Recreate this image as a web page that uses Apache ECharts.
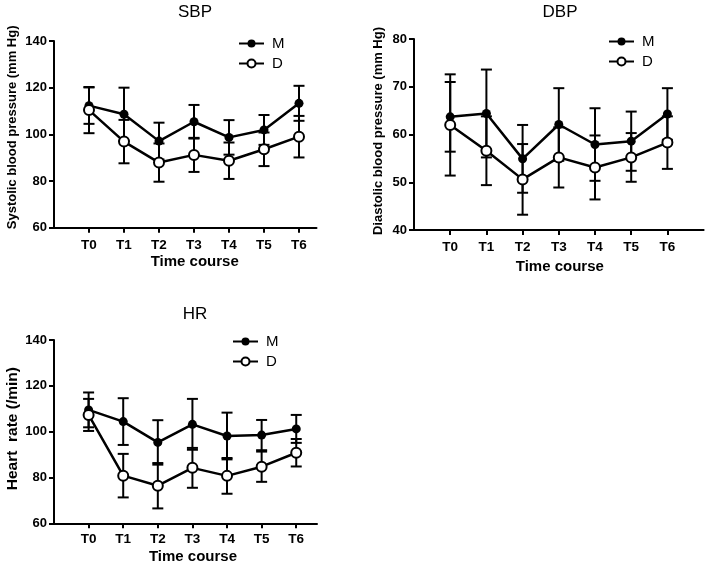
<!DOCTYPE html>
<html>
<head>
<meta charset="utf-8">
<script src="https://cdn.jsdelivr.net/npm/echarts@6/dist/echarts.min.js"></script>
<style>html,body{margin:0;padding:0;background:#fff}#c{width:709px;height:574px}</style>
</head>
<body>
<div id="c"></div>
<script>
// ---- data ----
const categories = ['T0','T1','T2','T3','T4','T5','T6'];
const seriesNames = ['M','D'];

const sbpM    = [112.3, 108.6, 97.1, 105.4, 98.7, 101.9, 113.3];
const sbpMErr = [7.8, 11.4, 7.9, 7.2, 7.4, 6.4, 7.5];
const sbpD    = [110.4, 96.9, 87.9, 91.2, 88.7, 93.6, 99.0];
const sbpDErr = [9.9, 9.3, 8.2, 7.3, 7.8, 7.2, 8.9];

const dbpM    = [63.7, 64.4, 54.9, 62.1, 57.9, 58.6, 64.3];
const dbpMErr = [7.3, 9.2, 7.1, 7.6, 7.6, 6.2, 5.4];
const dbpD    = [62.0, 56.6, 50.6, 55.2, 53.1, 55.2, 58.3];
const dbpDErr = [10.6, 7.2, 7.4, 6.3, 6.7, 5.1, 5.5];

const hrM     = [109.5, 104.4, 95.3, 103.2, 98.1, 98.5, 101.2];
const hrMErr  = [7.6, 10.2, 9.7, 11.1, 10.2, 6.6, 6.1];
const hrD     = [107.3, 80.8, 76.4, 84.2, 80.7, 84.7, 90.8];
const hrDErr  = [7.0, 9.5, 9.9, 8.7, 7.8, 6.6, 6.0];

const titles = ['SBP', 'DBP', 'HR'];
const yNames = ['Systolic blood pressure (mm Hg)', 'Diastolic blood pressure (mm Hg)', 'Heart  rate (/min)'];
const xName = 'Time course';
const yTicksSBP = [60, 80, 100, 120, 140];
const yTicksDBP = [40, 50, 60, 70, 80];
const yTicksHR  = [60, 80, 100, 120, 140];

// ---- build ----
const FONT = '"Liberation Sans", Arial, sans-serif';
const panels = [
  {M: sbpM, ME: sbpMErr, D: sbpD, DE: sbpDErr, ticks: yTicksSBP,
   grid: {left: 54, top: 41, width: 262.5, height: 186.7}, xmax: 6.5,
   title: {x: 195, y: 4}, legend: {left: 238, top: 36},
   yNameGap: 35, yNamePad: 14, yNameSize: 13, xNameGap: 27, xNamePad: 19, xLabelMargin: 11},
  {M: dbpM, ME: dbpMErr, D: dbpD, DE: dbpDErr, ticks: yTicksDBP,
   grid: {left: 414, top: 39, width: 289.6, height: 191}, xmax: 7,
   title: {x: 560, y: 4}, legend: {left: 608, top: 34},
   yNameGap: 29, yNamePad: 7, yNameSize: 13, xNameGap: 29, xNamePad: 2, xLabelMargin: 10},
  {M: hrM, ME: hrMErr, D: hrD, DE: hrDErr, ticks: yTicksHR,
   grid: {left: 54, top: 340, width: 263, height: 183.3}, xmax: 6.6,
   title: {x: 195, y: 306}, legend: {left: 232, top: 334},
   yNameGap: 33, yNamePad: 6, yNameSize: 15.5, xNameGap: 26, xNamePad: 15, xLabelMargin: 9}
];

const tickIdx = categories.map((c, i) => i);

function errRender(params, api) {
  const x = api.value(0), lo = api.value(1), hi = api.value(2);
  const a = api.coord([x, hi]), b = api.coord([x, lo]);
  const w = 5.5;
  const st = {stroke: '#000', lineWidth: 2};
  return {type: 'group', children: [
    {type: 'line', shape: {x1: a[0], y1: a[1], x2: b[0], y2: b[1]}, style: st},
    {type: 'line', shape: {x1: a[0] - w, y1: a[1], x2: a[0] + w, y2: a[1]}, style: st},
    {type: 'line', shape: {x1: b[0] - w, y1: b[1], x2: b[0] + w, y2: b[1]}, style: st}
  ]};
}

const option = {
  animation: false,
  backgroundColor: '#fff',
  textStyle: {fontFamily: FONT},
  title: [], legend: [], grid: [], xAxis: [], yAxis: [], series: []
};

panels.forEach((p, g) => {
  option.title.push({
    text: titles[g], left: p.title.x, top: p.title.y, textAlign: 'center', padding: 0,
    textStyle: {fontFamily: FONT, fontSize: 17, fontWeight: 'normal', color: '#000'}
  });
  option.legend.push({
    orient: 'vertical', left: p.legend.left, top: p.legend.top, padding: 0,
    itemWidth: 25, itemHeight: 10, itemGap: 5, data: seriesNames,
    textStyle: {fontFamily: FONT, fontSize: 15, lineHeight: 15, color: '#000', padding: [0, 0, 0, 3]}
  });
  option.grid.push(Object.assign({containLabel: false}, p.grid));
  const dmin = p.ticks[0], dmax = p.ticks[p.ticks.length - 1];
  option.xAxis.push({
    type: 'value', gridIndex: g, min: -1, max: p.xmax, interval: 1,
    name: xName, nameLocation: 'middle', nameGap: p.xNameGap,
    nameTextStyle: {fontFamily: FONT, fontSize: 15, fontWeight: 'bold', color: '#000', padding: [0, 0, 0, p.xNamePad]},
    axisLine: {show: true, onZero: false, lineStyle: {color: '#000', width: 2}},
    axisTick: {show: true, length: 5, lineStyle: {color: '#000', width: 2}, customValues: tickIdx},
    axisLabel: {color: '#000', fontFamily: FONT, fontSize: 13.5, fontWeight: 'bold', margin: p.xLabelMargin,
      customValues: tickIdx,
      formatter: v => (Number.isInteger(v) && v >= 0 && v < categories.length) ? categories[v] : ''},
    splitLine: {show: false}
  });
  option.yAxis.push({
    type: 'value', gridIndex: g, min: dmin, max: dmax, interval: p.ticks[1] - p.ticks[0],
    name: yNames[g], nameLocation: 'middle', nameRotate: 90, nameGap: p.yNameGap,
    nameTextStyle: {fontFamily: FONT, fontSize: p.yNameSize, fontWeight: 'bold', color: '#000', padding: [0, 0, 0, p.yNamePad]},
    axisLine: {show: true, onZero: false, lineStyle: {color: '#000', width: 2}},
    axisTick: {show: true, length: 5, lineStyle: {color: '#000', width: 2}},
    axisLabel: {color: '#000', fontFamily: FONT, fontSize: 13, fontWeight: 'bold', margin: 7},
    splitLine: {show: false}
  });
  const mk = (arr) => arr.map((v, i) => [i, v]);
  const mkErr = (arr, err) => arr.map((v, i) => [i, v - err[i], v + err[i]]);
  option.series.push(
    {type: 'custom', name: 'errM', xAxisIndex: g, yAxisIndex: g, renderItem: errRender,
     data: mkErr(p.M, p.ME), encode: {x: 0, y: [1, 2]}, z: 2, silent: true},
    {type: 'custom', name: 'errD', xAxisIndex: g, yAxisIndex: g, renderItem: errRender,
     data: mkErr(p.D, p.DE), encode: {x: 0, y: [1, 2]}, z: 2, silent: true},
    {type: 'line', name: 'M', xAxisIndex: g, yAxisIndex: g, data: mk(p.M), z: 3,
     symbol: 'circle', symbolSize: 9, showAllSymbol: true,
     lineStyle: {color: '#000', width: 2.5}, itemStyle: {color: '#000', borderColor: '#000', borderWidth: 0}},
    {type: 'line', name: 'D', xAxisIndex: g, yAxisIndex: g, data: mk(p.D), z: 4,
     symbol: 'circle', symbolSize: 10, showAllSymbol: true,
     lineStyle: {color: '#000', width: 2.5}, itemStyle: {color: '#fff', borderColor: '#000', borderWidth: 2}}
  );
});

const chart = echarts.init(document.getElementById('c'), null, {renderer: 'canvas'});
chart.setOption(option);
</script>
</body>
</html>
